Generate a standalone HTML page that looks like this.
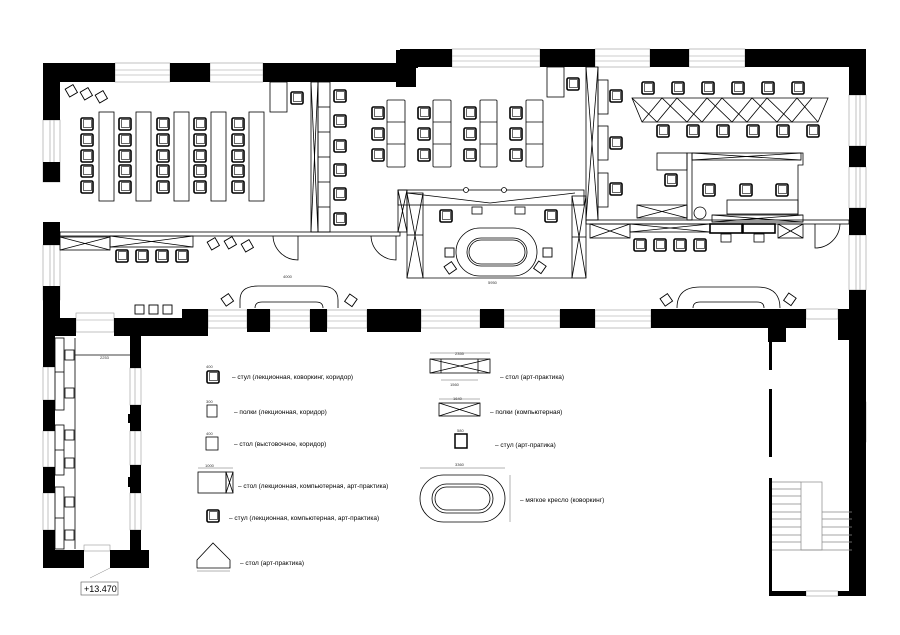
<!DOCTYPE html>
<html><head><meta charset="utf-8"><style>
html,body{margin:0;padding:0;background:#fff}
svg{display:block}
text{font-family:"Liberation Sans",sans-serif}
</style></head><body>
<svg width="900" height="635" viewBox="0 0 900 635" xmlns="http://www.w3.org/2000/svg">
<defs>
<g id="ch"><rect x="0" y="0" width="12" height="12" rx="1.5" fill="#fff" stroke="#000" stroke-width="1.6"/><rect x="2.5" y="1.5" width="8" height="8" fill="#fff" stroke="#000" stroke-width="0.6"/></g>
<g id="sq"><rect x="0" y="0" width="9" height="9" fill="#fff" stroke="#000" stroke-width="0.9"/></g>
<g id="win"><rect x="0" y="0" width="1" height="1"/></g>
</defs>
<rect width="900" height="635" fill="#fff"/>

<g fill="#fff" stroke="#999" stroke-width="0.6">
<!-- windows top -->
<rect x="115" y="63" width="55" height="19"/><line x1="115" y1="70" x2="170" y2="70"/><line x1="115" y1="75" x2="170" y2="75"/>
<rect x="210" y="63" width="53" height="19"/><line x1="210" y1="70" x2="263" y2="70"/><line x1="210" y1="75" x2="263" y2="75"/>
<rect x="452" y="49" width="88" height="18"/><line x1="452" y1="56" x2="540" y2="56"/><line x1="452" y1="61" x2="540" y2="61"/>
<rect x="595" y="49" width="55" height="18"/><line x1="595" y1="56" x2="650" y2="56"/><line x1="595" y1="61" x2="650" y2="61"/>
<rect x="689" y="49" width="56" height="18"/><line x1="689" y1="56" x2="745" y2="56"/><line x1="689" y1="61" x2="745" y2="61"/>
<!-- left windows -->
<rect x="43" y="120" width="17" height="62"/><line x1="50" y1="120" x2="50" y2="182"/><line x1="54" y1="120" x2="54" y2="182"/>
<rect x="43" y="245" width="17" height="55"/><line x1="50" y1="245" x2="50" y2="300"/><line x1="54" y1="245" x2="54" y2="300"/>
<!-- right windows -->
<rect x="849" y="95" width="17" height="51"/><line x1="856" y1="95" x2="856" y2="146"/><line x1="860" y1="95" x2="860" y2="146"/>
<rect x="849" y="167" width="17" height="41"/><line x1="856" y1="167" x2="856" y2="208"/><line x1="860" y1="167" x2="860" y2="208"/>
<rect x="849" y="235" width="17" height="55"/><line x1="856" y1="235" x2="856" y2="290"/><line x1="860" y1="235" x2="860" y2="290"/>
<!-- bottom windows -->
<rect x="76" y="313" width="38" height="19"/><line x1="76" y1="320" x2="114" y2="320"/>
<rect x="208" y="310" width="39" height="18"/><line x1="208" y1="316" x2="247" y2="316"/><line x1="208" y1="321" x2="247" y2="321"/>
<rect x="270" y="310" width="40" height="18"/><line x1="270" y1="316" x2="310" y2="316"/><line x1="270" y1="321" x2="310" y2="321"/>
<rect x="327" y="310" width="40" height="18"/><line x1="327" y1="316" x2="367" y2="316"/><line x1="327" y1="321" x2="367" y2="321"/>
<rect x="421" y="310" width="59" height="18"/><line x1="421" y1="316" x2="480" y2="316"/><line x1="421" y1="321" x2="480" y2="321"/>
<rect x="504" y="310" width="56" height="18"/><line x1="504" y1="316" x2="560" y2="316"/><line x1="504" y1="321" x2="560" y2="321"/>
<rect x="595" y="310" width="56" height="18"/><line x1="595" y1="316" x2="651" y2="316"/><line x1="595" y1="321" x2="651" y2="321"/>
<rect x="806" y="309" width="32" height="10"/>
<!-- wing windows -->
<rect x="43" y="367" width="12" height="33"/><line x1="48" y1="367" x2="48" y2="400"/>
<rect x="43" y="431" width="12" height="36"/><line x1="48" y1="431" x2="48" y2="467"/>
<rect x="43" y="493" width="12" height="37"/><line x1="48" y1="493" x2="48" y2="530"/>
<rect x="130" y="368" width="11" height="37"/><line x1="135" y1="368" x2="135" y2="405"/>
<rect x="130" y="431" width="11" height="34"/><line x1="135" y1="431" x2="135" y2="465"/>
<rect x="130" y="493" width="11" height="37"/><line x1="135" y1="493" x2="135" y2="530"/>
<rect x="84" y="545" width="26" height="6"/>
<rect x="852" y="402" width="14" height="40"/><line x1="858" y1="402" x2="858" y2="442"/>
<rect x="806" y="591" width="32" height="5"/>
</g>

<!-- walls -->
<g fill="#000">
<rect x="43" y="63" width="72" height="19"/>
<rect x="170" y="63" width="40" height="19"/>
<rect x="263" y="63" width="140" height="19"/>
<rect x="396" y="50" width="22" height="18"/>
<rect x="396" y="50" width="20" height="37"/>
<rect x="400" y="49" width="52" height="18"/>
<rect x="540" y="49" width="55" height="18"/>
<rect x="650" y="49" width="39" height="18"/>
<rect x="745" y="49" width="121" height="18"/>
<rect x="849" y="49" width="17" height="46"/>
<rect x="849" y="146" width="17" height="21"/>
<rect x="849" y="208" width="17" height="27"/>
<rect x="849" y="290" width="17" height="306"/>
<rect x="43" y="63" width="17" height="57"/>
<rect x="43" y="162" width="17" height="20"/>
<rect x="43" y="222" width="17" height="23"/>
<rect x="43" y="286" width="17" height="50"/>
<!-- bottom wall main -->
<rect x="43" y="318" width="33" height="18"/>
<rect x="114" y="318" width="68" height="18"/>
<rect x="182" y="309" width="26" height="27"/>
<rect x="247" y="309" width="23" height="23"/>
<rect x="310" y="309" width="17" height="23"/>
<rect x="367" y="309" width="54" height="23"/>
<rect x="480" y="309" width="24" height="19"/>
<rect x="560" y="309" width="35" height="19"/>
<rect x="651" y="309" width="155" height="19"/>
<rect x="768" y="309" width="18" height="33"/>
<rect x="838" y="309" width="28" height="31"/>
<!-- wing -->
<rect x="43" y="336" width="12" height="31"/>
<rect x="43" y="400" width="12" height="31"/>
<rect x="43" y="467" width="12" height="26"/>
<rect x="43" y="530" width="12" height="38"/>
<rect x="130" y="336" width="11" height="32"/>
<rect x="130" y="405" width="11" height="26"/>
<rect x="128" y="414" width="3" height="9"/>
<rect x="130" y="465" width="11" height="28"/>
<rect x="128" y="477" width="3" height="10"/>
<rect x="130" y="530" width="11" height="20"/>
<rect x="43" y="550" width="41" height="18"/>
<rect x="110" y="550" width="39" height="18"/>
<!-- stair room -->
<rect x="769" y="328" width="3" height="42"/>
<rect x="769" y="389" width="3" height="68"/>
<rect x="769" y="478" width="3" height="118"/>
<rect x="769" y="591" width="37" height="5"/>
<rect x="838" y="591" width="28" height="5"/>
<rect x="852" y="300" width="14" height="102"/>
<rect x="852" y="442" width="14" height="154"/>
</g>

<!-- stairs -->
<g fill="none" stroke="#888" stroke-width="0.7">
<rect x="801" y="482" width="21" height="68"/>
<line x1="772" y1="482" x2="801" y2="482"/><line x1="772" y1="489" x2="801" y2="489"/><line x1="772" y1="496" x2="801" y2="496"/><line x1="772" y1="504" x2="801" y2="504"/><line x1="772" y1="512" x2="801" y2="512"/><line x1="772" y1="519" x2="801" y2="519"/><line x1="772" y1="527" x2="801" y2="527"/><line x1="772" y1="535" x2="801" y2="535"/><line x1="772" y1="542" x2="801" y2="542"/><line x1="772" y1="550" x2="852" y2="550"/>
<line x1="822" y1="512" x2="852" y2="512"/><line x1="822" y1="519" x2="852" y2="519"/><line x1="822" y1="527" x2="852" y2="527"/><line x1="822" y1="535" x2="852" y2="535"/><line x1="822" y1="542" x2="852" y2="542"/>
</g>

<g fill="none" stroke="#000" stroke-width="0.8">
<!-- main divider -->
<rect x="60" y="232" width="340" height="4"/>
<rect x="586" y="220" width="263" height="4"/>
<!-- lecture partition -->
<rect x="311" y="82" width="7" height="150"/>
<line x1="311" y1="82" x2="318" y2="232"/><line x1="318" y1="82" x2="311" y2="232"/>
<rect x="318" y="82" width="12" height="150"/>
<line x1="318" y1="107" x2="330" y2="107"/><line x1="318" y1="132" x2="330" y2="132"/><line x1="318" y1="157" x2="330" y2="157"/><line x1="318" y1="182" x2="330" y2="182"/><line x1="318" y1="207" x2="330" y2="207"/>
<rect x="270" y="82" width="17" height="30"/>
<!-- right partition -->
<rect x="586" y="67" width="12" height="153"/>
<line x1="586" y1="67" x2="598" y2="220"/><line x1="598" y1="67" x2="586" y2="220"/>
<rect x="598" y="80" width="10" height="34"/><rect x="598" y="126" width="10" height="34"/><rect x="598" y="173" width="10" height="34"/>
<rect x="547" y="67" width="17" height="30"/>
<!-- lecture tables -->
<rect x="99" y="112" width="15" height="89" fill="#fff"/>
<rect x="136" y="112" width="15" height="89" fill="#fff"/>
<rect x="174" y="112" width="15" height="89" fill="#fff"/>
<rect x="211" y="112" width="15" height="89" fill="#fff"/>
<rect x="249" y="112" width="15" height="89" fill="#fff"/>
<!-- middle room tables -->
<rect x="387" y="100" width="18" height="67" rx="1"/><line x1="387" y1="122" x2="405" y2="122"/><line x1="387" y1="144" x2="405" y2="144"/>
<rect x="433" y="100" width="18" height="67" rx="1"/><line x1="433" y1="122" x2="451" y2="122"/><line x1="433" y1="144" x2="451" y2="144"/>
<rect x="480" y="100" width="17" height="67" rx="1"/><line x1="480" y1="122" x2="497" y2="122"/><line x1="480" y1="144" x2="497" y2="144"/>
<rect x="526" y="100" width="17" height="67" rx="1"/><line x1="526" y1="122" x2="543" y2="122"/><line x1="526" y1="144" x2="543" y2="144"/>
<!-- coworking enclosure -->
<rect x="398" y="190" width="186" height="15"/>
<line x1="407" y1="193" x2="490" y2="203"/><line x1="575" y1="193" x2="490" y2="203"/>
<rect x="398" y="190" width="9" height="42"/><line x1="398" y1="190" x2="407" y2="232"/><line x1="407" y1="190" x2="398" y2="232"/>
<rect x="407" y="193" width="16" height="85"/><line x1="407" y1="193" x2="423" y2="278"/><line x1="423" y1="193" x2="407" y2="278"/><line x1="407" y1="235" x2="423" y2="235"/>
<rect x="572" y="196" width="14" height="82"/><line x1="572" y1="196" x2="586" y2="278"/><line x1="586" y1="196" x2="572" y2="278"/><line x1="572" y1="237" x2="586" y2="237"/>
<line x1="423" y1="278" x2="572" y2="278"/>
<rect x="456" y="228" width="81" height="48" rx="24"/>
<rect x="467" y="238" width="60" height="28" rx="14"/><rect x="469" y="240" width="56" height="24" rx="12"/>
<circle cx="466" cy="190" r="2.5" fill="#fff"/><circle cx="504" cy="190" r="2.5" fill="#fff"/>
<rect x="472" y="207" width="10" height="7"/><rect x="515" y="207" width="10" height="7"/>
<!-- art triangles -->
<polygon points="632,98 828,98 818,122 642,122"/>
<polyline points="642,122 662,98 687,122 707,98 732,122 752,98 777,122 797,98 818,122" />
<polyline points="632,98 657,122 677,98 702,122 722,98 747,122 767,98 792,122 812,98"/>
<!-- computer box -->
<rect x="657" y="153" width="30" height="17"/>
<rect x="687" y="153" width="5" height="67"/>
<rect x="692" y="153" width="109" height="7"/><line x1="692" y1="153" x2="801" y2="160"/><line x1="692" y1="160" x2="801" y2="153"/>
<polyline points="801,153 803,153 803,165 798,165 798,215"/>
<rect x="637" y="205" width="50" height="13"/><line x1="637" y1="205" x2="687" y2="218"/><line x1="637" y1="218" x2="687" y2="205"/>
<circle cx="700" cy="213" r="6"/>
<rect x="727" y="200" width="71" height="14"/>
<rect x="712" y="215" width="91" height="7"/><line x1="712" y1="215" x2="803" y2="222"/><line x1="712" y1="222" x2="803" y2="215"/>
<!-- below divider right -->
<rect x="590" y="224" width="40" height="14"/><line x1="590" y1="224" x2="630" y2="238"/><line x1="590" y1="238" x2="630" y2="224"/>
<rect x="630" y="224" width="80" height="8"/><line x1="630" y1="224" x2="710" y2="232"/><line x1="630" y1="232" x2="710" y2="224"/>
<rect x="710" y="224" width="32" height="9" stroke-width="1.6"/><rect x="743" y="224" width="32" height="9" stroke-width="1.6"/>
<rect x="778" y="224" width="25" height="14"/><line x1="778" y1="224" x2="803" y2="238"/><line x1="778" y1="238" x2="803" y2="224"/>
<rect x="721" y="234" width="10" height="8"/><rect x="754" y="234" width="10" height="8"/>
<!-- left corridor -->
<rect x="60" y="237" width="50" height="13"/><line x1="60" y1="237" x2="110" y2="250"/><line x1="60" y1="250" x2="110" y2="237"/>
<rect x="110" y="236" width="83" height="11"/><line x1="110" y1="236" x2="193" y2="247"/><line x1="110" y1="247" x2="193" y2="236"/>
<!-- doors -->
<path d="M273,236 L273,236 A25,25 0 0 0 298,260 L298,236" />
<path d="M371,236 A25,25 0 0 0 396,260 L396,236"/>
<path d="M840,224 A25,25 0 0 1 815,248 L815,224" transform="translate(0,0)"/>
<!-- ovals bottom -->
<path d="M240,300 Q240,286 258,286 L320,286 Q338,286 338,300 L338,308"/>
<path d="M240,308 L240,300"/>
<path d="M255,308 Q255,302 262,302 L316,302 Q323,302 323,308"/>
<path d="M677,308 Q677,287 700,287 L757,287 Q780,287 780,308"/>
<path d="M693,308 Q693,302 700,302 L757,302 Q764,302 764,308"/>
<!-- wing furniture -->
<rect x="55" y="338" width="9" height="72"/><rect x="55" y="425" width="9" height="50"/><rect x="55" y="487" width="9" height="62"/>
<line x1="55" y1="372" x2="64" y2="372"/><line x1="55" y1="450" x2="64" y2="450"/><line x1="55" y1="518" x2="64" y2="518"/>
<rect x="65" y="350" width="9" height="10"/><rect x="65" y="388" width="9" height="10"/><rect x="65" y="430" width="9" height="10"/><rect x="65" y="458" width="9" height="10"/><rect x="65" y="497" width="9" height="10"/><rect x="65" y="530" width="9" height="10"/>
<line x1="75" y1="338" x2="75" y2="549"/>
<line x1="75" y1="355" x2="130" y2="355"/>
</g>

<!-- chairs -->
<g>
<use href="#ch" x="81" y="118"/><use href="#ch" x="81" y="134"/><use href="#ch" x="81" y="150"/><use href="#ch" x="81" y="165"/><use href="#ch" x="81" y="181"/>
<use href="#ch" x="119" y="118"/><use href="#ch" x="119" y="134"/><use href="#ch" x="119" y="150"/><use href="#ch" x="119" y="165"/><use href="#ch" x="119" y="181"/>
<use href="#ch" x="157" y="118"/><use href="#ch" x="157" y="134"/><use href="#ch" x="157" y="150"/><use href="#ch" x="157" y="165"/><use href="#ch" x="157" y="181"/>
<use href="#ch" x="194" y="118"/><use href="#ch" x="194" y="134"/><use href="#ch" x="194" y="150"/><use href="#ch" x="194" y="165"/><use href="#ch" x="194" y="181"/>
<use href="#ch" x="232" y="118"/><use href="#ch" x="232" y="134"/><use href="#ch" x="232" y="150"/><use href="#ch" x="232" y="165"/><use href="#ch" x="232" y="181"/>
<use href="#ch" x="291" y="92"/>
<use href="#ch" x="334" y="90"/><use href="#ch" x="334" y="115"/><use href="#ch" x="334" y="140"/><use href="#ch" x="334" y="164"/><use href="#ch" x="334" y="188"/><use href="#ch" x="334" y="213"/>
<use href="#ch" x="372" y="107"/><use href="#ch" x="372" y="128"/><use href="#ch" x="372" y="149"/>
<use href="#ch" x="418" y="107"/><use href="#ch" x="418" y="128"/><use href="#ch" x="418" y="149"/>
<use href="#ch" x="464" y="107"/><use href="#ch" x="464" y="128"/><use href="#ch" x="464" y="149"/>
<use href="#ch" x="510" y="107"/><use href="#ch" x="510" y="128"/><use href="#ch" x="510" y="149"/>
<use href="#ch" x="567" y="78"/>
<use href="#ch" x="610" y="90"/><use href="#ch" x="610" y="137"/><use href="#ch" x="610" y="183"/>
<use href="#ch" x="642" y="82"/><use href="#ch" x="672" y="82"/><use href="#ch" x="702" y="82"/><use href="#ch" x="732" y="82"/><use href="#ch" x="762" y="82"/><use href="#ch" x="792" y="82"/>
<use href="#ch" x="657" y="125"/><use href="#ch" x="687" y="125"/><use href="#ch" x="717" y="125"/><use href="#ch" x="747" y="125"/><use href="#ch" x="777" y="125"/><use href="#ch" x="807" y="125"/>
<use href="#ch" x="665" y="174"/>
<use href="#ch" x="703" y="184"/><use href="#ch" x="740" y="184"/><use href="#ch" x="776" y="184"/>
<use href="#ch" x="634" y="239"/><use href="#ch" x="654" y="239"/><use href="#ch" x="674" y="239"/><use href="#ch" x="694" y="239"/>
<use href="#ch" x="116" y="250"/><use href="#ch" x="136" y="250"/><use href="#ch" x="156" y="250"/><use href="#ch" x="176" y="250"/>
<use href="#ch" x="440" y="210"/><use href="#ch" x="545" y="210"/>
</g>
<g>
<use href="#sq" x="135" y="305"/><use href="#sq" x="149" y="305"/><use href="#sq" x="163" y="305"/>
<use href="#sq" x="445" y="248"/><use href="#sq" x="543" y="248"/>
<use href="#sq" transform="rotate(-30 72 91)" x="67" y="86"/>
<use href="#sq" transform="rotate(-30 87 94)" x="82" y="89"/>
<use href="#sq" transform="rotate(-30 102 97)" x="97" y="92"/>
<use href="#sq" transform="rotate(-30 214 244)" x="209" y="239"/>
<use href="#sq" transform="rotate(-30 231 243)" x="226" y="238"/>
<use href="#sq" transform="rotate(-30 248 246)" x="243" y="241"/>
<use href="#sq" transform="rotate(-35 228 300)" x="223" y="295"/>
<use href="#sq" transform="rotate(35 351 301)" x="346" y="296"/>
<use href="#sq" transform="rotate(-35 451 268)" x="446" y="263"/>
<use href="#sq" transform="rotate(35 540 268)" x="535" y="263"/>
<use href="#sq" transform="rotate(-35 667 300)" x="662" y="295"/>
<use href="#sq" transform="rotate(35 790 300)" x="785" y="295"/>
</g>

<!-- legend -->
<g fill="none" stroke="#000" stroke-width="0.8">
<use href="#ch" x="207" y="371"/>
<rect x="207" y="405" width="10" height="12"/>
<rect x="206" y="437" width="12" height="13"/>
<rect x="198" y="472" width="28" height="21"/><rect x="226" y="472" width="7" height="21"/><line x1="226" y1="472" x2="233" y2="493"/><line x1="233" y1="472" x2="226" y2="493"/>
<use href="#ch" x="207" y="510"/>
<polygon points="197,560 213,543 230,560 230,568 197,568"/>
<rect x="430" y="359" width="60" height="14"/><line x1="430" y1="359" x2="490" y2="373"/><line x1="430" y1="373" x2="490" y2="359"/><line x1="441" y1="359" x2="441" y2="373"/><line x1="478" y1="359" x2="478" y2="373"/>
<rect x="439" y="403" width="41" height="13"/><line x1="439" y1="403" x2="480" y2="416"/><line x1="439" y1="416" x2="480" y2="403"/>
<rect x="455" y="434" width="12" height="14" stroke-width="1.5"/>
<rect x="420" y="475" width="85" height="47" rx="23.5"/>
<rect x="432" y="484" width="61" height="29" rx="14.5"/><rect x="435" y="487" width="55" height="23" rx="11.5"/>
<g stroke="#666" stroke-width="0.5">
<line x1="420" y1="468" x2="505" y2="468"/><line x1="510" y1="475" x2="510" y2="522"/>
<line x1="430" y1="353" x2="490" y2="353"/><line x1="441" y1="380" x2="478" y2="380"/>
<line x1="439" y1="399" x2="480" y2="399"/><line x1="198" y1="468" x2="233" y2="468"/>
<line x1="197" y1="571" x2="230" y2="571"/>
</g>
</g>
<g font-size="6.5" fill="#000">
<text x="232" y="379">– стул (лекционная, коворкинг, коридор)</text>
<text x="234" y="414">– полки (лекционная, коридор)</text>
<text x="234" y="446">– стол (выстовочное, коридор)</text>
<text x="238" y="488">– стол (лекционная, компьютерная, арт-практика)</text>
<text x="229" y="520">– стул (лекционная, компьютерная, арт-практика)</text>
<text x="240" y="565">– стол (арт-практика)</text>
<text x="500" y="379">– стол (арт-практика)</text>
<text x="490" y="414">– полки (компьютерная)</text>
<text x="495" y="447">– стул (арт-пратика)</text>
<text x="520" y="502">– мягкое кресло (коворкинг)</text>
</g>
<g font-size="4" fill="#333">
<text x="206" y="368">400</text><text x="206" y="403">300</text><text x="206" y="435">400</text>
<text x="205" y="467">1000</text><text x="455" y="355">2355</text><text x="450" y="386">1560</text>
<text x="453" y="400">1640</text><text x="457" y="432">580</text><text x="455" y="466">3360</text>
<text x="100" y="359">2253</text><text x="283" y="278">4000</text><text x="488" y="284">5950</text>
</g>
<!-- level mark -->
<line x1="90" y1="578" x2="110" y2="568" stroke="#888" stroke-width="0.5"/>
<rect x="81" y="582" width="37" height="13" fill="#fff" stroke="#555" stroke-width="0.6"/>
<text x="84" y="592" font-size="9" fill="#000">+13.470</text>
</svg>
</body></html>
